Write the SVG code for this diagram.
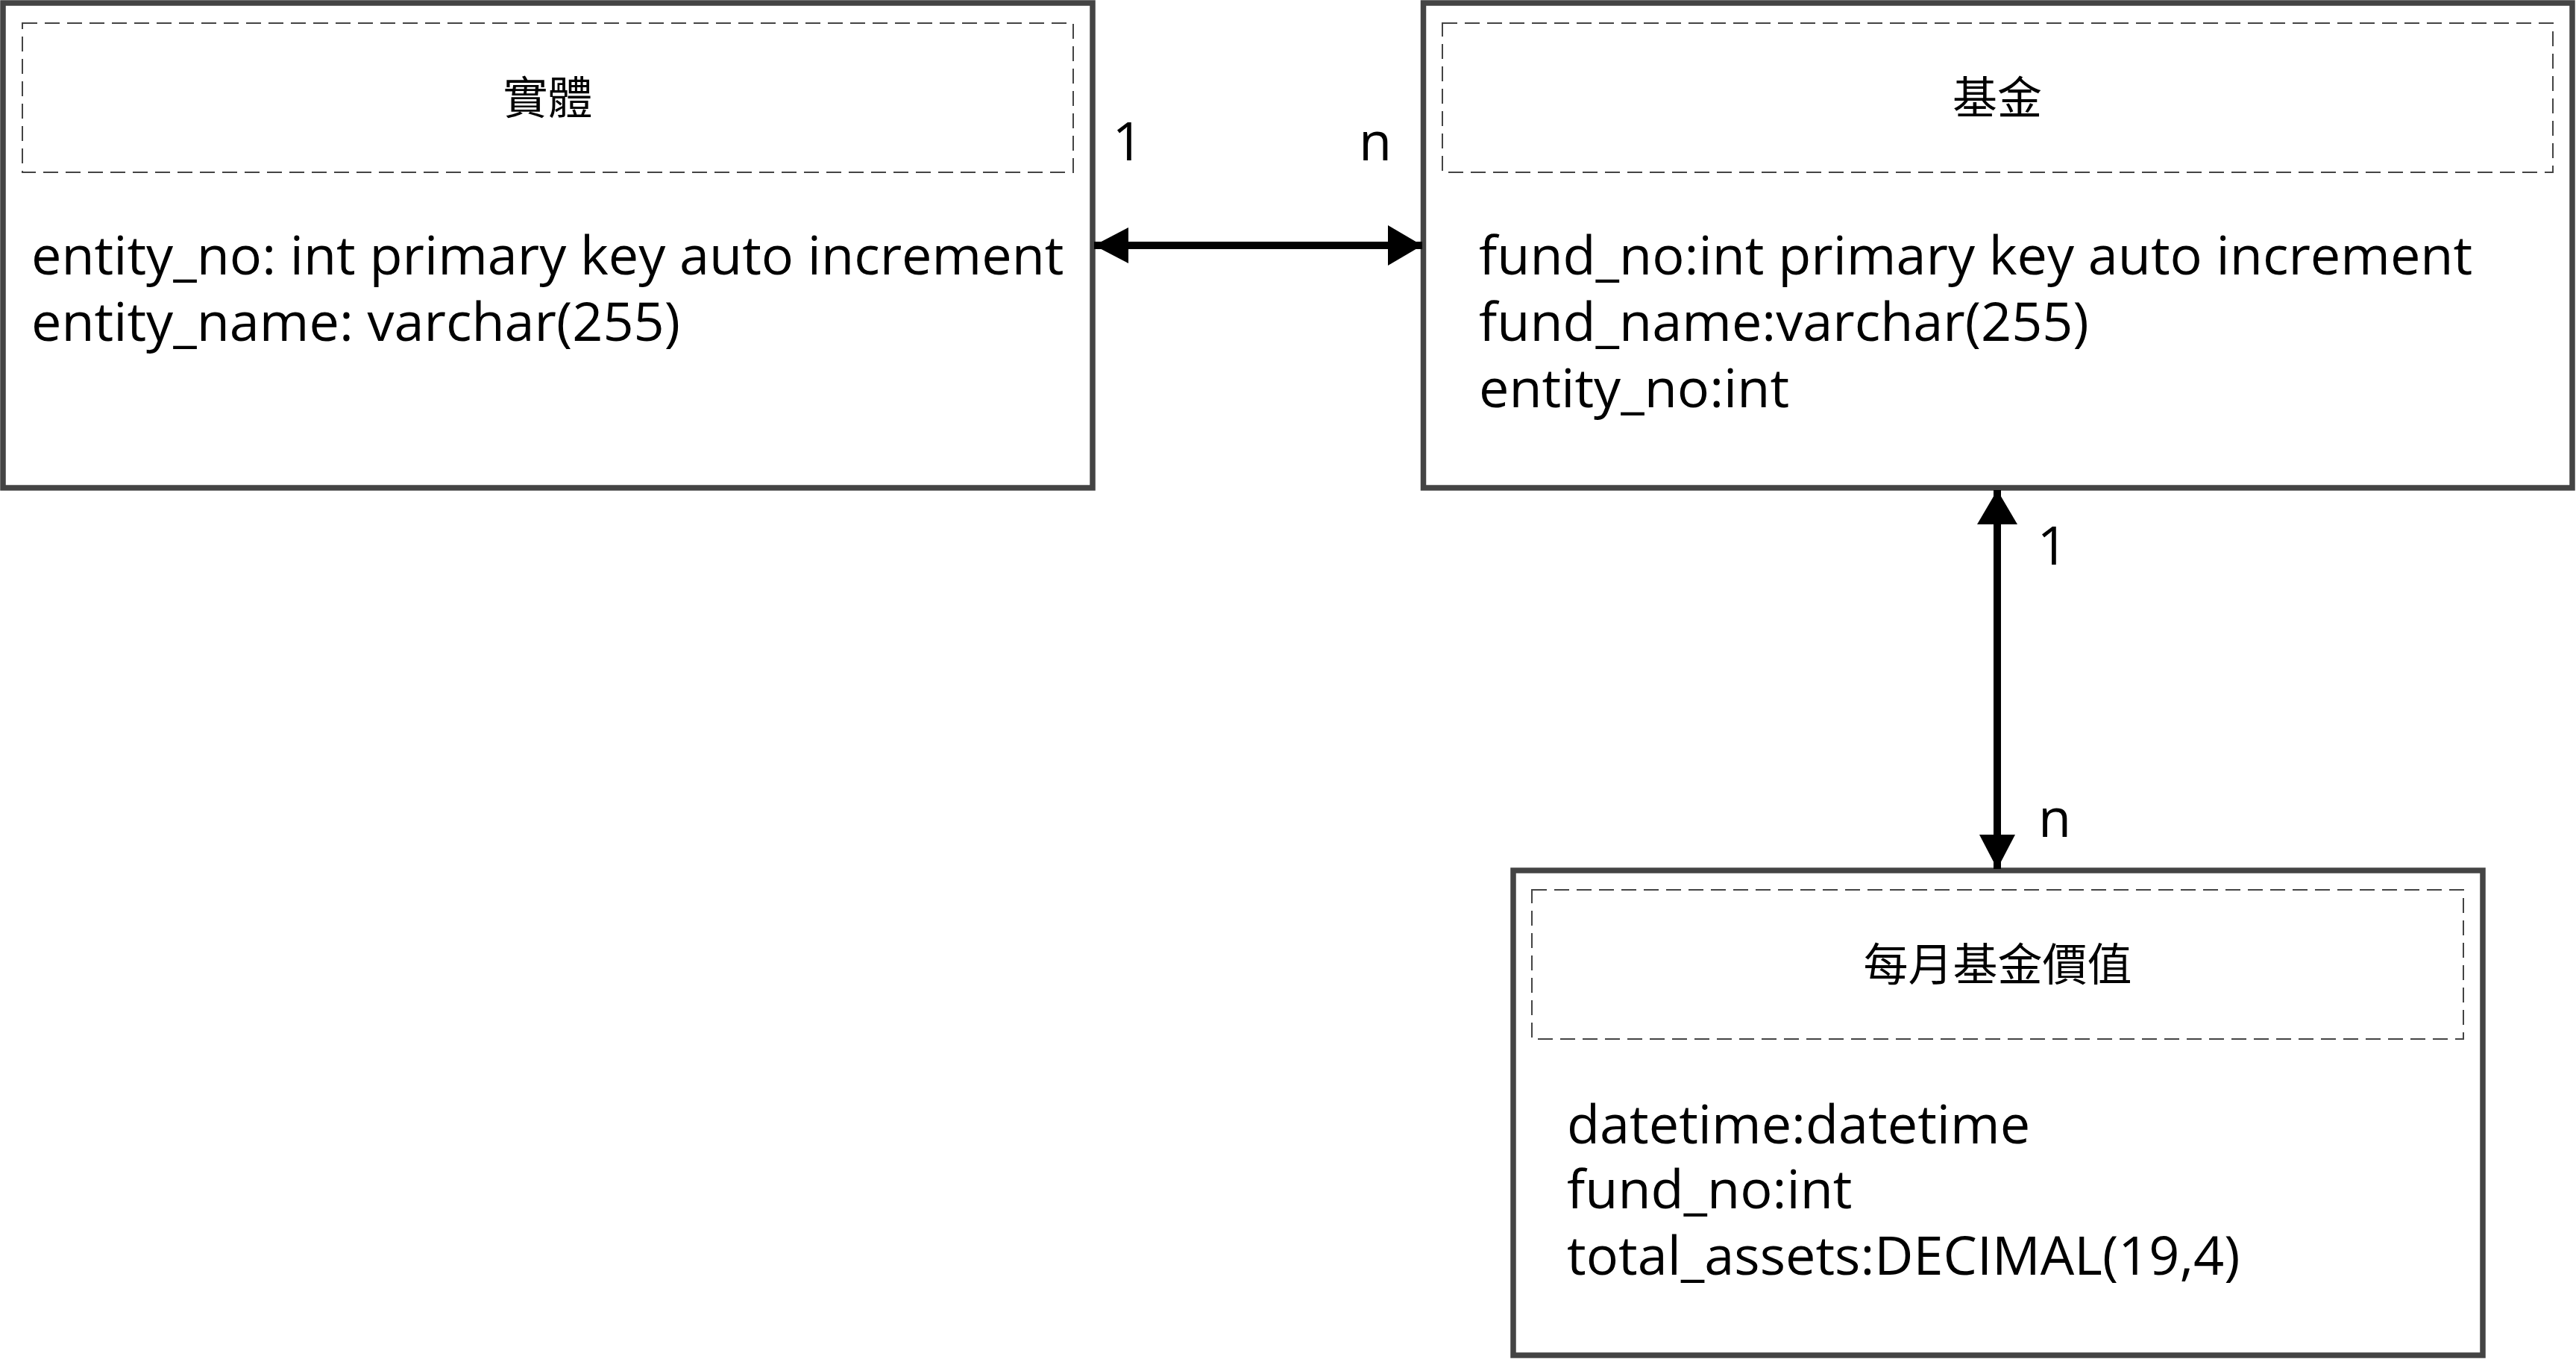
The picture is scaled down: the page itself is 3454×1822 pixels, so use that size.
<svg xmlns="http://www.w3.org/2000/svg" width="3454" height="1822" viewBox="0 0 3454 1822">
<defs>
<style>
.box{fill:#ffffff;stroke:#444444;stroke-width:7.5}
.hdr{fill:none;stroke:#444444;stroke-width:2;stroke-dasharray:20 10}
.title{font-family:"Open Sans","Noto Sans CJK TC",sans-serif;font-size:60px;fill:#000000;text-anchor:middle}
.attr{font-family:"Open Sans","Noto Sans CJK TC",sans-serif;font-size:72px;fill:#000000}
.lbl{font-family:"Open Sans",sans-serif;font-size:72px;fill:#000000;text-anchor:middle}
.edge{fill:none;stroke:#000000;stroke-width:10}
</style>
<marker id="headS" markerUnits="userSpaceOnUse" markerWidth="46" markerHeight="48" refX="46" refY="24" orient="auto-start-reverse" viewBox="0 0 46 48">
<path d="M0,0 L46,24 L0,48 Z" fill="#000000"/>
</marker>
<marker id="headL" markerUnits="userSpaceOnUse" markerWidth="46" markerHeight="54" refX="46" refY="27" orient="auto-start-reverse" viewBox="0 0 46 54">
<path d="M0,0 L46,27 L0,54 Z" fill="#000000"/>
</marker>
</defs>
<rect x="0" y="0" width="3454" height="1822" fill="#ffffff"/>
<g id="entity">
<rect class="box" x="4" y="4" width="1461" height="650"/>
<rect class="hdr" x="30" y="31" width="1409" height="200"/>
<text class="title" x="734.5" y="153">實體</text>
<text class="attr" x="42" y="368">entity_no: int primary key auto increment</text>
<text class="attr" x="42" y="457">entity_name: varchar(255)</text>
</g>
<g id="fund">
<rect class="box" x="1908.5" y="4" width="1540.5" height="650"/>
<rect class="hdr" x="1934" y="31" width="1489" height="200"/>
<text class="title" x="2678" y="153">基金</text>
<text class="attr" x="1983" y="368">fund_no:int primary key auto increment</text>
<text class="attr" x="1983" y="457">fund_name:varchar(255)</text>
<text class="attr" x="1983" y="546">entity_no:int</text>
</g>
<g id="monthly_fund_value">
<rect class="box" x="2029" y="1167" width="1300" height="650"/>
<rect class="hdr" x="2054" y="1193" width="1249" height="200"/>
<text class="title" x="2678.5" y="1315">每月基金價值</text>
<text class="attr" x="2101" y="1533">datetime:datetime</text>
<text class="attr" x="2101" y="1620">fund_no:int</text>
<text class="attr" x="2101" y="1709">total_assets:DECIMAL(19,4)</text>
</g>
<g id="connectors">
<path class="edge" d="M1467,329 L1907,329" marker-start="url(#headS)" marker-end="url(#headL)"/>
<path class="edge" d="M2678,657 L2678,1165" marker-start="url(#headL)" marker-end="url(#headS)"/>
<text class="lbl" x="1512" y="215">1</text>
<text class="lbl" x="1844" y="215">n</text>
<text class="lbl" x="2752" y="757">1</text>
<text class="lbl" x="2755" y="1122">n</text>
</g>
</svg>
